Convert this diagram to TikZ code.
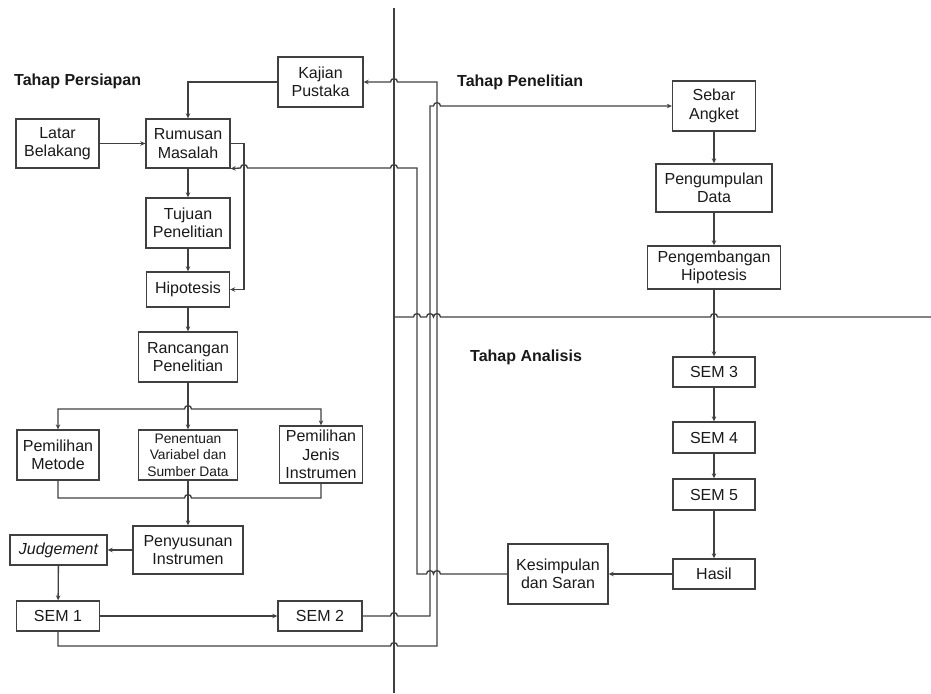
\documentclass[tikz,border=0pt]{standalone}
\usepackage{fontspec}
\setmainfont{Liberation Sans}
\usetikzlibrary{arrows.meta}
\tikzset{
 ln/.style={line width=1.35pt, draw=black!75},
 arr/.style={ln, -{Stealth[length=5pt,width=4.5pt]}},
 arrb/.style={ln, {Stealth[length=5pt,width=4.5pt]}-{Stealth[length=5pt,width=4.5pt]}},
 box/.style={draw=black!75, line width=1.35pt, align=center, inner sep=0pt, font=\fontsize{16}{18.3}\selectfont, text=black!90},
 head/.style={anchor=west, font=\fontsize{16}{19}\selectfont\bfseries, inner sep=0pt, text=black!90},
 hopr/.style args={#1/#2}{insert path={-- ({#1-3.5},#2) .. controls ({#1-3.5},{#2-4.5}) and ({#1+3.5},{#2-4.5}) .. ({#1+3.5},#2)}},
 hopl/.style args={#1/#2}{insert path={-- ({#1+3.5},#2) .. controls ({#1+3.5},{#2-4.5}) and ({#1-3.5},{#2-4.5}) .. ({#1-3.5},#2)}},
}
\begin{document}
\begin{tikzpicture}[x=1pt,y=-1pt]
\useasboundingbox (0,0) rectangle (931,693);

% headings
\node[head] (h1) at (14,81) {Tahap Persiapan};
\node[head] (h2) at (457,82) {Tahap Penelitian};
\node[head] (h3) at (470,357) {Tahap Analisis};

% boxes - left
\node[box, minimum width=85pt, minimum height=50pt] (kp) at (320.5,82) {Kajian\\Pustaka};
\node[box, minimum width=83pt, minimum height=49pt] (lb) at (57.5,143.5) {Latar\\Belakang};
\node[box, minimum width=84pt, minimum height=49pt] (rm) at (188,143.5) {Rumusan\\Masalah};
\node[box, minimum width=84pt, minimum height=50pt] (tp) at (188,223) {Tujuan\\Penelitian};
\node[box, minimum width=83pt, minimum height=35pt] (hp) at (188,289.5) {Hipotesis};
\node[box, minimum width=99pt, minimum height=50pt] (rc) at (188,357) {Rancangan\\Penelitian};
\node[box, minimum width=82pt, minimum height=50pt] (pm) at (58,455) {Pemilihan\\Metode};
\node[box, minimum width=99pt, minimum height=50pt, font=\fontsize{13.8}{16.5}\selectfont] (pv) at (188,455) {Penentuan\\Variabel dan\\Sumber Data};
\node[box, minimum width=83pt, minimum height=57pt, font=\fontsize{16}{18.5}\selectfont] (pj) at (321,454.5) {Pemilihan\\Jenis\\Instrumen};
\node[box, minimum width=110pt, minimum height=48pt] (ps) at (188,550) {Penyusunan\\Instrumen};
\node[box, minimum width=97pt, minimum height=30pt] (jd) at (58.5,550) {\itshape Judgement};
\node[box, minimum width=83pt, minimum height=30pt] (s1) at (58,616) {SEM 1};
\node[box, minimum width=84pt, minimum height=30pt] (s2) at (320,616) {SEM 2};

% boxes - right
\node[box, minimum width=83pt, minimum height=50pt] (sa) at (714,106) {Sebar\\Angket};
\node[box, minimum width=116pt, minimum height=48pt] (pd) at (714,188) {Pengumpulan\\Data};
\node[box, minimum width=133pt, minimum height=43pt] (ph) at (714,267.5) {Pengembangan\\Hipotesis};
\node[box, minimum width=82pt, minimum height=30pt] (s3) at (714,372) {SEM 3};
\node[box, minimum width=82pt, minimum height=31pt] (s4) at (714,437.5) {SEM 4};
\node[box, minimum width=82pt, minimum height=31pt] (s5) at (714,494.5) {SEM 5};
\node[box, minimum width=82pt, minimum height=30pt] (hs) at (714,574) {Hasil};
\node[box, minimum width=100pt, minimum height=60pt] (ks) at (558,574) {Kesimpulan\\dan Saran};

% dividers
\draw[ln] (394,8) -- (394,693);
\draw[ln] (394,317) [hopr=417/317] [hopr=430/317] [hopr=437/317] [hopr=714/317] -- (931,317);

% connectors - left
\draw[arr] (lb) -- (rm);
\draw[arr] (kp.west) -| (rm.north);
\draw[arr] (rm) -- (tp);
\draw[arr] (tp) -- (hp);
\draw[arr] (rm.east) -- (244,143.5) |- (hp.east);
\draw[arr] (hp) -- (rc);
\draw[arr] (rc) -- (pv);
\draw[arrb] (pm.north) -- (58,409) [hopr=188/409] -- (321,409) -- (pj.north);
\draw[ln] (pm.south) -- (58,498) [hopr=188/498] -- (321,498) -- (pj.south);
\draw[arr] (pv) -- (ps);
\draw[arr] (ps) -- (jd);
\draw[arr] (jd) -- (s1);
\draw[arr] (s1) -- (s2);

% long connectors
\draw[arr] (s1.south) -- (58,646) [hopr=394/646] -- (437,646) -- (437,82) [hopl=394/82] -- (kp.east);
\draw[arr] (s2.east) [hopr=394/616] -- (430,616) -- (430,106) [hopr=437/106] -- (sa.west);
\draw[arr] (ks.west) [hopl=437/574] [hopl=430/574] -- (417,574) -- (417,168) [hopl=394/168] [hopl=244/168] -- (rm.south east);

% connectors - right
\draw[arr] (sa) -- (pd);
\draw[arr] (pd) -- (ph);
\draw[arr] (ph) -- (s3);
\draw[arr] (s3) -- (s4);
\draw[arr] (s4) -- (s5);
\draw[arr] (s5) -- (hs);
\draw[arr] (hs) -- (ks);
\end{tikzpicture}
\end{document}
